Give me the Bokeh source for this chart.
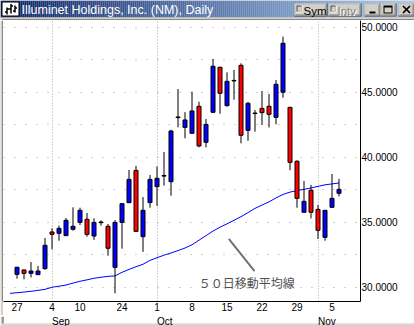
import numpy as np
from bokeh.plotting import figure
from bokeh.layouts import column, row
from bokeh.models import Range1d, FixedTicker, Label, ColumnDataSource
from bokeh.embed import file_html
from bokeh.resources import INLINE

# ---------------- data ----------------
title_text = "Illuminet Holdings, Inc. (NM), Daily"
note_text = "５０日移動平均線"

dates = ["08-27", "08-28", "08-29", "08-30", "08-31",
         "09-04", "09-05", "09-06", "09-07", "09-10",
         "09-17", "09-18", "09-19", "09-20", "09-21",
         "09-24", "09-25", "09-26", "09-27", "09-28",
         "10-01", "10-02", "10-03", "10-04", "10-05",
         "10-08", "10-09", "10-10", "10-11", "10-12",
         "10-15", "10-16", "10-17", "10-18", "10-19",
         "10-22", "10-23", "10-24", "10-25", "10-26",
         "10-29", "10-30", "10-31", "11-01", "11-02",
         "11-05", "11-06"]

opens = [30.97, 31.31, 31.05, 30.95, 31.41,
         34.23, 34.13, 33.95, 34.44, 34.97,
         35.21, 33.92, 34.95, 34.67, 31.51,
         34.97, 36.49, 38.97, 33.87, 36.49,
         37.72, 38.53, 38.10, 43.03, 42.28,
         41.82, 43.90, 41.13, 43.44, 46.90,
         43.95, 45.85, 47.05, 42.05, 43.34,
         43.74, 43.90, 43.05, 44.98, 43.82,
         39.67, 35.75, 37.44, 35.97, 33.82,
         36.13, 37.21]
highs = [31.55, 31.35, 31.92, 31.62, 33.77,
         34.51, 34.72, 35.31, 36.13, 36.10,
         35.69, 35.28, 35.12, 34.85, 35.15,
         36.46, 39.00, 39.32, 36.92, 38.62,
         39.27, 40.38, 42.10, 45.23, 43.45,
         45.02, 44.25, 42.92, 47.54, 46.95,
         46.51, 46.69, 47.21, 44.25, 43.62,
         45.08, 44.85, 45.92, 49.26, 43.85,
         39.75, 38.15, 37.85, 36.31, 35.92,
         38.69, 38.31]
lows = [30.64, 30.59, 30.74, 30.93, 31.33,
        32.90, 33.56, 33.93, 34.33, 34.77,
        33.87, 33.62, 34.72, 32.41, 29.51,
        32.95, 36.45, 34.25, 32.70, 36.10,
        36.24, 37.80, 37.02, 42.28, 41.44,
        41.80, 40.75, 40.74, 43.40, 43.33,
        43.87, 44.41, 41.05, 41.25, 41.95,
        42.46, 42.28, 42.51, 44.56, 38.98,
        36.10, 35.73, 35.28, 33.69, 33.56,
        36.10, 36.97]
closes = [31.52, 31.05, 31.23, 31.23, 33.21,
          34.05, 34.51, 35.13, 34.67, 35.90,
          34.05, 34.97, 35.00, 32.98, 34.97,
          36.41, 38.28, 34.28, 35.90, 38.28,
          38.36, 38.58, 42.00, 43.08, 42.85,
          43.54, 40.85, 42.51, 46.98, 44.90,
          45.82, 45.89, 41.67, 44.13, 43.38,
          43.41, 43.28, 45.59, 48.75, 39.59,
          36.82, 36.59, 35.75, 34.36, 35.90,
          36.82, 37.51]

ma_dates = ["08-24"] + dates
ma_values = [29.51, 29.56, 29.61, 29.67, 29.74, 29.82, 29.98, 30.06, 30.15, 30.30,
             30.44, 30.55, 30.67, 30.75, 30.82, 30.85, 31.13, 31.35, 31.56, 31.75,
             32.05, 32.25, 32.45, 32.62, 32.80, 33.00, 33.25, 33.60, 33.95, 34.30,
             34.60, 34.86, 35.13, 35.41, 35.72, 36.05, 36.30, 36.55, 36.85, 37.12,
             37.30, 37.42, 37.51, 37.62, 37.74, 37.86, 37.93, 38.00]

day_tick_dates = ["08-27", "09-04", "09-10", "09-24", "10-01",
                  "10-08", "10-15", "10-22", "10-29", "11-05"]
day_tick_labels = ["27", "4", "10", "24", "1", "8", "15", "22", "29", "5"]
month_start_dates = ["09-04", "10-01", "11-01"]
month_labels = ["Sep", "Oct", "Nov"]

price_ticks = [30, 35, 40, 45, 50]
price_tick_labels = ["30.0000", "35.0000", "40.0000", "45.0000", "50.0000"]
price_grid = [30, 32.5, 35, 37.5, 40, 42.5, 45, 47.5, 50]

# annotation placement (index, price)
note_pos = (25.97, 30.38)
note_line = ([30.26, 33.93], [33.71, 31.22])

# ---------------- helpers ----------------
pos = {d: i for i, d in enumerate(dates)}
xs = np.arange(len(dates))
ma_x = np.arange(len(ma_dates)) - 1

FONT = "Liberation Sans"
FACE = "#D4D0C8"
PX_PER_DAY = 7.0
FIRST_DAY_PX = 16.5          # page x of the first session


def deco_fig(w, h, xr=None):
    f = figure(width=w, height=h, x_range=xr if xr is not None else Range1d(0, w),
               y_range=Range1d(h, 0),
               toolbar_location=None, output_backend="svg",
               x_axis_location=None, y_axis_location=None,
               min_border_left=0, min_border_right=0, min_border_top=0, min_border_bottom=0)
    f.grid.visible = False
    f.outline_line_color = None
    f.background_fill_color = FACE
    f.border_fill_color = FACE
    return f


# ---------------- title bar ----------------
tb = deco_fig(414, 20)
c0 = np.array([10, 36, 106])
c1 = np.array([166, 202, 240])
gl = np.arange(0, 414, 2)
gcols = []
for g in gl:
    t = g / 413.0
    c = (c0 + (c1 - c0) * t).round().astype(int)
    gcols.append("#%02x%02x%02x" % tuple(c))
tb.quad(left=gl, right=gl + 2, top=0, bottom=17, fill_color=gcols, line_color=None)
tb.quad(left=[0], right=[414], top=[17], bottom=[20], fill_color=FACE, line_color=None)
tb.quad(left=[2], right=[414], top=[19], bottom=[20], fill_color="#404040", line_color=None)

# icon
tb.quad(left=[1.5], right=[18.5], top=[1.5], bottom=[15.5], fill_color="white",
        line_color="black", line_width=1)
tb.segment(x0=[6.5, 10.5, 14.5, 4.5, 6.5, 8.5, 10.5, 12.5, 14.5],
           y0=[7, 3.5, 5, 11.5, 8.5, 8.5, 5.5, 10.5, 7.5],
           x1=[6.5, 10.5, 14.5, 6.5, 8.5, 10.5, 12.5, 14.5, 16.5],
           y1=[14, 13, 12, 11.5, 8.5, 8.5, 5.5, 10.5, 7.5],
           line_color="black", line_width=1.5)

tb.add_layout(Label(x=21, y=9.5, text=title_text, text_color="white",
                    text_font=FONT, text_font_size="12.5px", text_baseline="middle"))


def button(f, x0, x1, y0, y1):
    f.quad(left=[x0], right=[x1], top=[y0], bottom=[y1], fill_color="#404040", line_color=None)
    f.quad(left=[x0], right=[x1 - 1], top=[y0], bottom=[y1 - 1], fill_color="#FFFFFF", line_color=None)
    f.quad(left=[x0 + 1], right=[x1 - 1], top=[y0 + 1], bottom=[y1 - 1], fill_color="#808080", line_color=None)
    f.quad(left=[x0 + 1], right=[x1 - 2], top=[y0 + 1], bottom=[y1 - 2], fill_color=FACE, line_color=None)


def checkbox(f, x0, y0):
    f.quad(left=[x0], right=[x0 + 6], top=[y0], bottom=[y0 + 7], fill_color="#FFFFFF", line_color=None)
    f.quad(left=[x0], right=[x0 + 5], top=[y0], bottom=[y0 + 6], fill_color="#404040", line_color=None)
    f.quad(left=[x0 + 1], right=[x0 + 5], top=[y0 + 1], bottom=[y0 + 6], fill_color=FACE, line_color=None)


button(tb, 294, 327, 3, 16)
checkbox(tb, 296, 5)
tb.add_layout(Label(x=303, y=10, text="Sym", text_color="black", text_font=FONT,
                    text_font_size="11.5px", text_baseline="middle"))
button(tb, 328, 361, 3, 16)
checkbox(tb, 330, 5)
tb.add_layout(Label(x=338, y=11, text="Intv", text_color="white", text_font=FONT,
                    text_font_size="11.5px", text_baseline="middle"))
tb.add_layout(Label(x=337, y=10, text="Intv", text_color="#808080", text_font=FONT,
                    text_font_size="11.5px", text_baseline="middle"))
button(tb, 364, 380, 3, 16)
tb.quad(left=[369], right=[375], top=[11], bottom=[13], fill_color="black", line_color=None)
button(tb, 380, 396, 3, 16)
tb.quad(left=[383], right=[392], top=[5], bottom=[13], fill_color="black", line_color=None)
tb.quad(left=[384], right=[391], top=[7], bottom=[12], fill_color=FACE, line_color=None)
button(tb, 398, 414, 3, 16)
tb.segment(x0=[402.5, 409.5], y0=[5.5, 5.5], x1=[409.5, 402.5], y1=[12.5, 12.5],
           line_color="black", line_width=1.7)

# ---------------- left window border ----------------
lb = deco_fig(3, 295)
lb.quad(left=[2], right=[3], top=[0], bottom=[295], fill_color="#404040", line_color=None)

# ---------------- main chart ----------------
x_start = -(FIRST_DAY_PX - 3) / PX_PER_DAY
p = figure(width=411, height=295,
           x_range=Range1d(x_start, x_start + 357 / PX_PER_DAY),
           y_range=Range1d(50 - (301 - 26.5) / 13.0, 50 + 6.5 / 13.0),
           y_axis_location="right", toolbar_location=None, output_backend="svg",
           min_border_left=0, min_border_right=54, min_border_top=0, min_border_bottom=14)
p.background_fill_color = "white"
p.border_fill_color = "white"
p.outline_line_color = None

# axes
xa = p.xaxis[0]
xa.ticker = FixedTicker(ticks=[pos[d] for d in day_tick_dates])
xa.major_label_overrides = {pos[d]: lab for d, lab in zip(day_tick_dates, day_tick_labels)}
ya = p.yaxis[0]
ya.ticker = FixedTicker(ticks=price_ticks)
ya.major_label_overrides = {t: lab for t, lab in zip(price_ticks, price_tick_labels)}
for ax in (xa, ya):
    ax.major_tick_out = 0
    ax.major_tick_in = 0
    ax.minor_tick_out = 0
    ax.minor_tick_in = 0
    ax.axis_line_color = "black"
    ax.axis_line_width = 1
    ax.major_label_text_font = FONT
    ax.major_label_text_font_size = "10px"
    ax.major_label_text_color = "black"
xa.major_label_standoff = 1
ya.major_label_standoff = 1

# grids
p.xgrid.ticker = FixedTicker(ticks=[pos[d] for d in month_start_dates])
p.xgrid.grid_line_color = "#A8A8A8"
p.xgrid.grid_line_dash = "1 2"
p.ygrid.ticker = FixedTicker(ticks=price_grid)
p.ygrid.grid_line_color = "#A0A0A0"
p.ygrid.grid_line_dash = "1 10"

# moving average
p.line(x=ma_x, y=ma_values, line_color="#0000FF", line_width=1)

# candles
src = ColumnDataSource(dict(
    x=xs, open=opens, high=highs, low=lows, close=closes,
    top=[max(o, c) for o, c in zip(opens, closes)],
    bottom=[min(o, c) for o, c in zip(opens, closes)],
    color=["#0000FF" if c >= o else "#FF0000" for o, c in zip(opens, closes)],
))
p.segment(x0="x", y0="low", x1="x", y1="high", source=src, line_color="black", line_width=1)
p.vbar(x="x", width=4 / PX_PER_DAY, top="top", bottom="bottom", source=src,
       fill_color="color", line_color="black", line_width=1)

# annotation
p.line(x=note_line[0], y=note_line[1], line_color="#707070", line_width=2)
p.add_layout(Label(x=note_pos[0], y=note_pos[1], text=note_text, text_color="#505050",
                   text_font="Noto Sans CJK JP", text_font_size="12px",
                   text_baseline="middle", text_align="left"))

# ---------------- month row + bottom window border (same day scale) ----------------
bx0 = -FIRST_DAY_PX / PX_PER_DAY
bx1 = bx0 + 414 / PX_PER_DAY
bb = deco_fig(414, 11, Range1d(bx0, bx1))
bb.background_fill_color = "white"
bb.border_fill_color = "white"
bb.quad(left=[bx0], right=[bx1], top=[7], bottom=[11], fill_color=FACE, line_color=None)
bb.quad(left=[bx0], right=[bx1], top=[7], bottom=[8], fill_color="#E6E4DE", line_color=None)
bb.quad(left=[bx0], right=[bx0 + 2 / PX_PER_DAY], top=[0], bottom=[7], fill_color=FACE, line_color=None)
bb.quad(left=[bx0 + 2 / PX_PER_DAY], right=[bx0 + 3 / PX_PER_DAY], top=[0], bottom=[7],
        fill_color="#404040", line_color=None)
for d, lab in zip(month_start_dates, month_labels):
    bb.add_layout(Label(x=pos[d], y=4.6, text=lab, text_color="black", text_font=FONT,
                        text_font_size="10px", text_align="left", text_baseline="alphabetic"))

layout = column(tb, row(lb, p), bb)
open("out.html", "w").write(file_html(layout, INLINE))
